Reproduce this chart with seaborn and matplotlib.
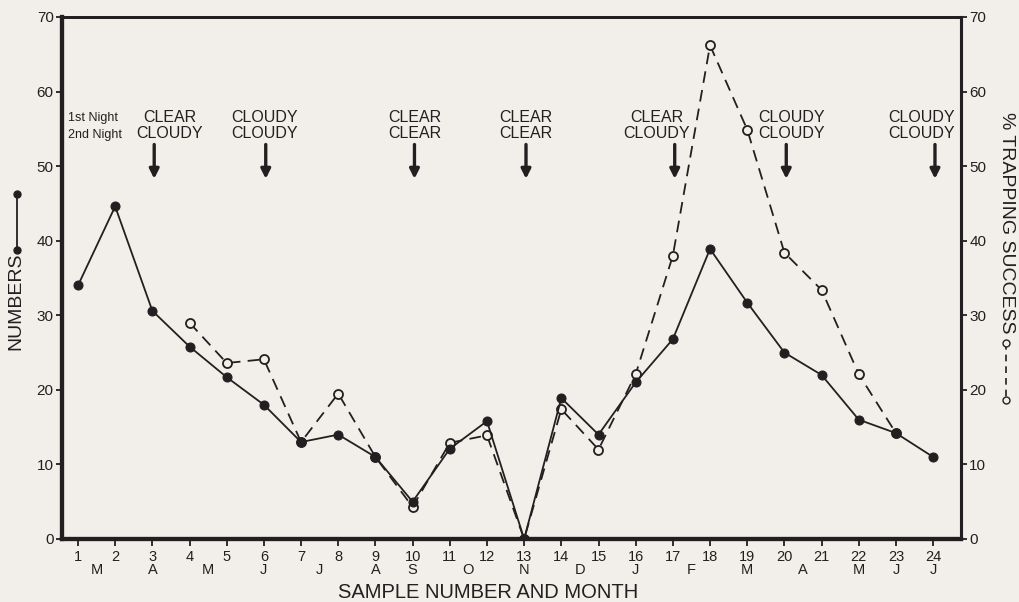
import numpy as np
import pandas as pd
import matplotlib
matplotlib.use("Agg")
import matplotlib.pyplot as plt
from matplotlib.lines import Line2D
import matplotlib.transforms as mtransforms
import seaborn as sns

# ---------------- data ----------------
samples = list(range(1, 25))
numbers = [34, 44.6, 30.6, 25.8, 21.7, 18.0, 13.0, 14.0, 11.0, 5.0, 12.1, 15.8,
           0.0, 18.9, 14.0, 21.0, 26.8, 38.9, 31.7, 25.0, 22.0, 16.0, 14.2, 11.0]
trapping = [np.nan, np.nan, np.nan, 29.0, 23.6, 24.1, 13.0, 19.5, 11.0, 4.3, 12.9, 13.9,
            0.0, 17.4, 12.0, 22.1, 38.0, 66.2, 54.9, 38.4, 33.4, 22.1, 14.2, np.nan]
month_pos = [1.5, 3, 4.5, 6, 7.5, 9, 10, 11.5, 13, 14.5, 16, 17.5, 19, 20.5, 22, 23, 24]
month_lab = ["M", "A", "M", "J", "J", "A", "S", "O", "N", "D", "J", "F", "M", "A", "M", "J", "J"]
weather_samples = [3, 6, 10, 13, 17, 20, 24]
night1 = ["CLEAR", "CLOUDY", "CLEAR", "CLEAR", "CLEAR", "CLOUDY", "CLOUDY"]
night2 = ["CLOUDY", "CLOUDY", "CLEAR", "CLEAR", "CLOUDY", "CLOUDY", "CLOUDY"]
yticks = [0, 10, 20, 30, 40, 50, 60, 70]

df = pd.DataFrame({"sample": samples, "numbers": numbers, "trapping": trapping})

# ---------------- style ----------------
bg = "#f2efea"
ink = "#231f20"
sns.set_theme(style="white")
plt.rcParams["font.family"] = ["Liberation Sans", "DejaVu Sans"]
plt.rcParams["text.color"] = ink

fig = plt.figure(figsize=(10.19, 6.02), dpi=100, facecolor=bg)
ax = fig.add_axes([62 / 1019, 63 / 602, (961 - 62) / 1019, (539 - 17) / 602])
ax2 = ax.twinx()
ax2.set_facecolor(bg)
ax.set_zorder(ax2.get_zorder() + 1)
ax.patch.set_visible(False)

sns.lineplot(data=df, x="sample", y="numbers", ax=ax, color=ink, lw=1.3,
             marker="o", markersize=6.5, markerfacecolor=ink, markeredgecolor=ink,
             zorder=3)
sns.lineplot(data=df.dropna(), x="sample", y="trapping", ax=ax2, color=ink, lw=1.3,
             marker="o", markersize=6.5, markerfacecolor=bg, markeredgecolor=ink,
             markeredgewidth=1.3, zorder=2)
for line in ax2.get_lines():
    line.set_linestyle((0, (6.5, 4)))

for a in (ax, ax2):
    a.set_xlim(0.57, 24.75)
    a.set_ylim(0, 70)
    a.set_yticks(yticks)
    a.set_ylabel("")
    a.set_xlabel("")

ax.set_xticks(samples)
ax.set_xticklabels([str(s) for s in samples], fontsize=10.5)
ax.set_yticklabels([str(t) for t in yticks], fontsize=11)
ax2.set_yticklabels([str(t) for t in yticks], fontsize=11)
ax.tick_params(axis="x", direction="out", length=5, width=1.3, pad=3, colors=ink, bottom=True)
ax.tick_params(axis="y", direction="out", length=4, width=1.3, pad=2, colors=ink, left=True)
ax2.tick_params(axis="y", direction="out", length=4, width=1.3, pad=2, colors=ink, right=True)

for a in (ax, ax2):
    for s in a.spines.values():
        s.set_color(ink)
    a.spines["left"].set_linewidth(3.0)
    a.spines["bottom"].set_linewidth(3.0)
    a.spines["right"].set_linewidth(2.2)
    a.spines["top"].set_linewidth(2.0)

# month labels
trans = mtransforms.blended_transform_factory(ax.transData, ax.transAxes)
for p, m in zip(month_pos, month_lab):
    ax.text(p, -0.06, m, transform=trans, ha="center", va="center", fontsize=10.5, color=ink)

fig.text(488 / 1019, 1 - 592 / 602, "SAMPLE NUMBER AND MONTH", ha="center", va="center",
         fontsize=14.5, color=ink)

# weather annotations
text_x = [3.47, 6.03, 10.07, 13.05, 16.57, 20.2, 23.7]
for s, tx, n1, n2 in zip(weather_samples, text_x, night1, night2):
    ax.text(tx, 56.5, n1, ha="center", va="center", fontsize=11.5, color=ink)
    ax.text(tx, 54.4, n2, ha="center", va="center", fontsize=11.5, color=ink)
    ax.annotate("", xy=(s + 0.05, 48.3), xytext=(s + 0.05, 52.9),
                arrowprops=dict(arrowstyle="-|>", lw=2.4, color=ink, mutation_scale=14,
                                shrinkA=0, shrinkB=0))
ax.text(0.74, 56.5, "1st Night", ha="left", va="center", fontsize=9, color=ink)
ax.text(0.74, 54.2, "2nd Night", ha="left", va="center", fontsize=9, color=ink)

# axis labels with symbol keys
fig.text(16 / 1019, 1 - 301 / 602, "NUMBERS", rotation=90, ha="center", va="center",
         fontsize=14, color=ink)
fig.add_artist(Line2D([17 / 1019, 17 / 1019], [1 - 194 / 602, 1 - 250 / 602],
                      transform=fig.transFigure, color=ink, lw=1.3, marker="o",
                      markersize=5, markerfacecolor=ink, markeredgecolor=ink))
fig.text(1007 / 1019, 1 - 223 / 602, "% TRAPPING SUCCESS", rotation=-90, ha="center",
         va="center", fontsize=14, color=ink)
fig.add_artist(Line2D([1006 / 1019, 1006 / 1019], [1 - 343 / 602, 1 - 400 / 602],
                      transform=fig.transFigure, color=ink, lw=1.2, linestyle=(0, (4, 3)),
                      marker="o", markersize=5, markerfacecolor=bg, markeredgecolor=ink))

fig.savefig("out.png", dpi=100, facecolor=bg)
